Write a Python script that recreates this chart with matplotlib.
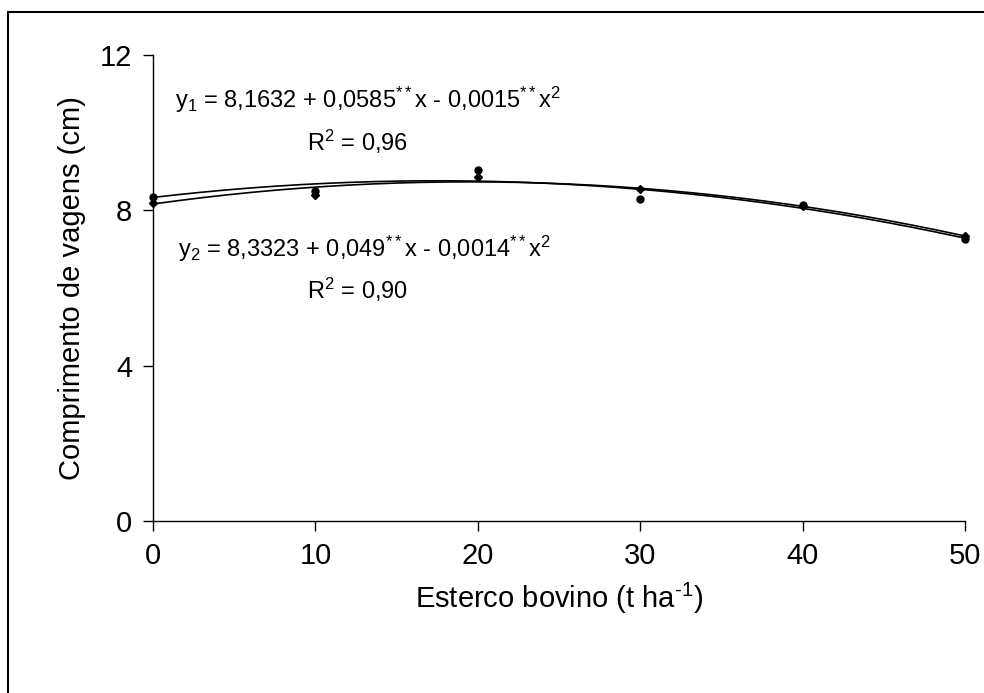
import numpy as np
import matplotlib.pyplot as plt
from matplotlib.patches import Rectangle

plt.rcParams['font.family'] = ['Liberation Sans', 'DejaVu Sans']
plt.rcParams['mathtext.fontset'] = 'custom'
plt.rcParams['mathtext.rm'] = 'Liberation Sans'
plt.rcParams['mathtext.it'] = 'Liberation Sans'
plt.rcParams['mathtext.default'] = 'regular'

# doses of manure (t/ha)
doses = [0, 10, 20, 30, 40, 50]
# observed pod length (cm)
obs1 = [8.20, 8.40, 8.85, 8.55, 8.12, 7.35]
obs2 = [8.35, 8.50, 9.05, 8.28, 8.15, 7.25]
# regression coefficients (b0, b1, b2)
coef1 = [8.1632, 0.0585, -0.0015]
coef2 = [8.3323, 0.049, -0.0014]

xlabels = ['0', '10', '20', '30', '40', '50']
ylabels = ['0', '4', '8', '12']

fig = plt.figure(figsize=(9.84, 6.93), dpi=100)
ax = fig.add_axes([0.1555, 0.2482, 0.8252, 0.6724])

xx = np.linspace(0, 50, 200)
for c in (coef1, coef2):
    ax.plot(xx, c[0] + c[1] * xx + c[2] * xx ** 2, color='black', lw=1.2)

ax.plot(doses, obs1, 'D', color='black', ms=4.5, clip_on=False, zorder=3)
ax.plot(doses, obs2, 'o', color='black', ms=5, clip_on=False, zorder=3)

ax.set_xlim(0, 50)
ax.set_ylim(0, 12)
ax.set_xticks([float(v) for v in xlabels])
ax.set_xticklabels(xlabels)
ax.set_yticks([float(v) for v in ylabels])
ax.set_yticklabels(ylabels)
ax.tick_params(direction='out', length=7, width=1, labelsize=21, pad=8)

for s in ('top', 'right'):
    ax.spines[s].set_visible(False)
for s in ('left', 'bottom'):
    ax.spines[s].set_linewidth(1)

ax.set_xlabel(r'Esterco bovino (t ha$^{\text{-1}}$)', fontsize=21, labelpad=8)
ax.set_ylabel('Comprimento de vagens (cm)', fontsize=21, labelpad=10)

eq_fs = 17
ax.text(1.35, 10.85, 'y$_1$ = 8,1632 + 0,0585$^{**}$x - 0,0015$^{**}$x$^2$',
        fontsize=eq_fs, va='center', ha='left')
ax.text(12.6, 9.75, 'R$^2$ = 0,96', fontsize=eq_fs, va='center', ha='center')
ax.text(1.55, 7.0, 'y$_2$ = 8,3323 + 0,049$^{**}$x - 0,0014$^{**}$x$^2$',
        fontsize=eq_fs, va='center', ha='left')
ax.text(12.6, 5.95, 'R$^2$ = 0,90', fontsize=eq_fs, va='center', ha='center')

fig.add_artist(Rectangle((8 / 984, -0.05), 1.1, 1 - 12 / 693 + 0.05,
                         transform=fig.transFigure, fill=False,
                         edgecolor='black', lw=1.5))

fig.savefig('out.png', dpi=100)
